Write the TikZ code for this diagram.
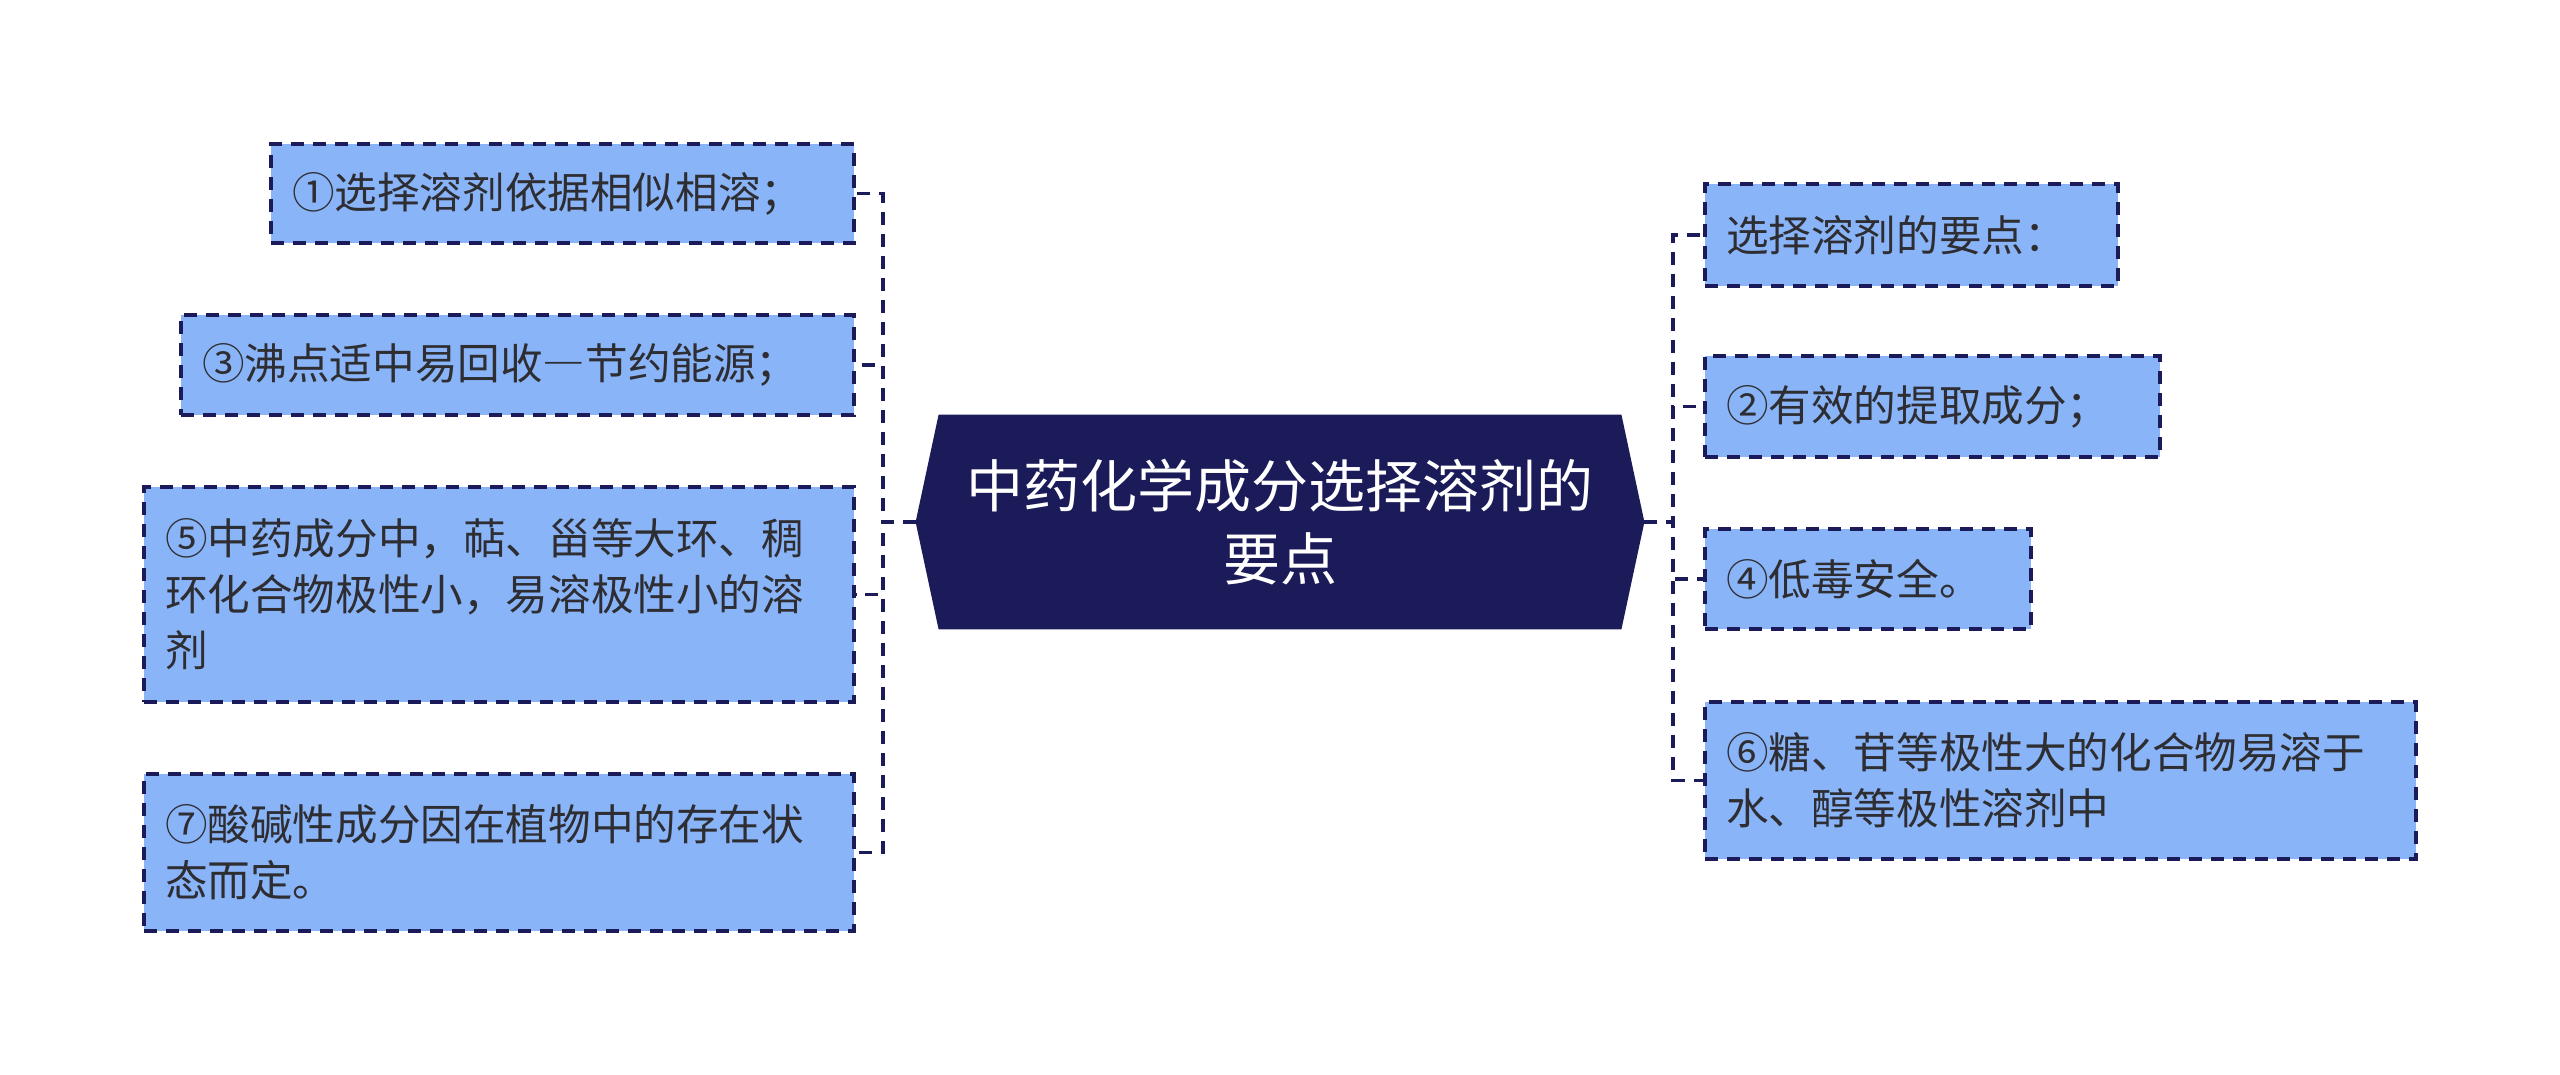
\documentclass[tikz,border=0pt]{standalone}
\usepackage{fontspec}
\setmainfont{Noto Sans CJK SC}
\usetikzlibrary{backgrounds}
\definecolor{navy}{RGB}{27,27,89}
\definecolor{leafblue}{RGB}{138,180,248}
\definecolor{txt}{RGB}{45,45,50}
\newcommand{\fwdash}{{\addfontfeatures{RawFeature=+fwid}—}}
\tikzset{
  leaf/.style={draw=navy, fill=leafblue, dash pattern=on 6.5pt off 4.5pt, line width=1.8pt,
    inner xsep=10.5pt, inner ysep=0pt, align=left, text=txt,
    font=\fontsize{21.3pt}{28pt}\selectfont},
  conn/.style={draw=navy, line width=1.8pt, dash pattern=on 6.5pt off 4.5pt},
  rootnode/.style={minimum width=364pt, minimum height=107pt, inner sep=0pt, align=center,
    text=white, font=\fontsize{28.5pt}{36.7pt}\selectfont}
}
\begin{document}
\begin{tikzpicture}[x=0.5pt,y=-0.5pt]
\useasboundingbox (0,0) rectangle (2560,1075);
% left leaves
\node[leaf, text width=270.5pt, minimum height=49.5pt] (b1) at (562.5,193.5) {①选择溶剂依据相似相溶；};
\node[leaf, text width=315.5pt, minimum height=50pt] (b3) at (517.5,365) {③沸点适中易回收\fwdash 节约能源；};
\node[leaf, text width=334pt, minimum height=107.5pt] (b5) at (499,594.5) {⑤中药成分中，萜、甾等大环、稠\\环化合物极性小，易溶极性小的溶\\剂};
\node[leaf, text width=334pt, minimum height=78.5pt] (b7) at (499,852.5) {⑦酸碱性成分因在植物中的存在状\\态而定。};
% right leaves
\node[leaf, text width=185.5pt, minimum height=51pt] (r1) at (1911.5,235) {选择溶剂的要点：};
\node[leaf, text width=206.5pt, minimum height=50.5pt] (r2) at (1932.5,406.5) {②有效的提取成分；};
\node[leaf, text width=142pt, minimum height=50pt] (r4) at (1868,579) {④低毒安全。};
\node[leaf, text width=334.5pt, minimum height=78.5pt] (r6) at (2060.5,780.5) {⑥糖、苷等极性大的化合物易溶于\\水、醇等极性溶剂中};
% root
\node[rootnode] (root) at (1280,522) {中药化学成分选择溶剂的\\要点};
\begin{scope}[on background layer]
\fill[navy] ([xshift=11.5pt]root.north west) -- ([xshift=-11.5pt]root.north east) -- (root.east)
  -- ([xshift=-11.5pt]root.south east) -- ([xshift=11.5pt]root.south west) -- (root.west) -- cycle;
\end{scope}
% connectors
\coordinate (lj) at (883,522);
\coordinate (rj) at (1673,522);
\foreach \n in {b1,b3,b5,b7} \draw[conn] (root.west) -- (lj) |- (\n.east);
\foreach \n in {r1,r2,r4,r6} \draw[conn] (root.east) -- (rj) |- (\n.west);
\end{tikzpicture}
\end{document}
